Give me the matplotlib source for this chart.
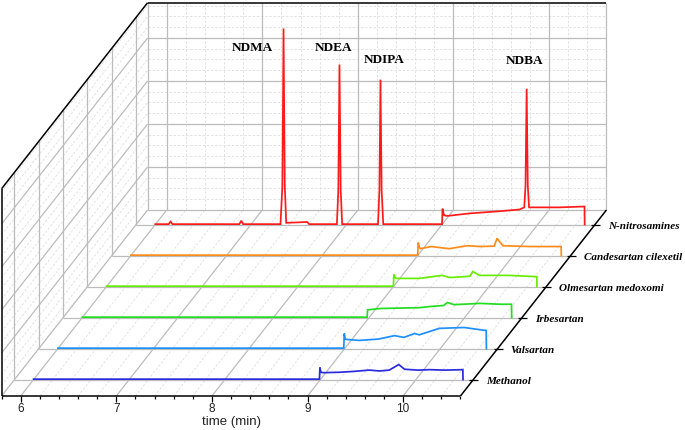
import numpy as np
import matplotlib
matplotlib.use("Agg")
from matplotlib import pyplot as plt

# series, front to back
names = ["Methanol", "Valsartan", "Irbesartan", "Olmesartan medoxomi",
         "Candesartan cilexetil", "N-nitrosamines"]
colors = ["#2b2be0", "#1e8fff", "#22dd22", "#66ee00", "#ff8c1a", "#ff1a1a"]
depths = [0.53, 1.53, 2.53, 3.53, 4.53, 5.53]

# traces: time (min) and signal (a.u.)
meoh_t = [6.00, 8.99, 8.995, 9.005, 9.03, 9.20, 9.35, 9.51, 9.62, 9.72, 9.82, 9.88, 10.02, 10.14, 10.30, 10.49, 10.492]
meoh_z = [0.01, 0.01, 0.28, 0.17, 0.16, 0.17, 0.19, 0.22, 0.20, 0.22, 0.35, 0.24, 0.22, 0.23, 0.22, 0.23, 0.0]

vals_t = [6.00, 8.99, 8.995, 9.005, 9.03, 9.15, 9.35, 9.52, 9.62, 9.73, 9.78, 9.99, 10.25, 10.41, 10.48, 10.482]
vals_z = [0.01, 0.01, 0.35, 0.22, 0.21, 0.19, 0.22, 0.30, 0.26, 0.35, 0.32, 0.47, 0.49, 0.44, 0.42, 0.0]

irb_t = [6.00, 8.98, 8.985, 9.03, 9.11, 9.30, 9.53, 9.65, 9.78, 9.82, 9.89, 10.16, 10.37, 10.49, 10.492]
irb_z = [0.01, 0.01, 0.18, 0.19, 0.21, 0.22, 0.23, 0.26, 0.28, 0.35, 0.30, 0.33, 0.31, 0.31, 0.0]

olm_t = [6.00, 9.00, 9.005, 9.02, 9.04, 9.27, 9.51, 9.59, 9.80, 9.83, 9.90, 10.21, 10.50, 10.502]
olm_z = [0.01, 0.01, 0.28, 0.20, 0.19, 0.19, 0.26, 0.21, 0.24, 0.35, 0.26, 0.26, 0.23, 0.0]

cand_t = [6.00, 9.00, 9.005, 9.02, 9.03, 9.14, 9.33, 9.52, 9.65, 9.80, 9.83, 9.89, 10.17, 10.50, 10.502]
cand_z = [0.01, 0.01, 0.30, 0.18, 0.16, 0.21, 0.16, 0.23, 0.21, 0.22, 0.40, 0.23, 0.21, 0.21, 0.0]

nitro_t = [6.00, 6.14, 6.16, 6.18, 6.88, 6.90, 6.92,
           7.31, 7.33, 7.342, 7.355, 7.37, 7.59, 7.61,
           7.90, 7.915, 7.927, 7.94, 7.955,
           8.33, 8.345, 8.356, 8.368, 8.385,
           9.00, 9.005, 9.02, 9.05, 9.29, 9.60, 9.81, 9.86, 9.873, 9.885, 9.897, 9.91,
           10.23, 10.49, 10.492]
nitro_z = [0.01, 0.01, 0.07, 0.01, 0.01, 0.09, 0.01,
           0.01, 0.9, 4.56, 0.9, 0.04, 0.06, 0.01,
           0.01, 0.8, 3.72, 0.8, 0.01,
           0.01, 0.8, 3.37, 0.8, 0.01,
           0.01, 0.37, 0.22, 0.20, 0.26, 0.31, 0.35, 0.40, 0.9, 3.16, 0.9, 0.40,
           0.40, 0.42, 0.0]

traces_t = [meoh_t, vals_t, irb_t, olm_t, cand_t, nitro_t]
traces_z = [meoh_z, vals_z, irb_z, olm_z, cand_z, nitro_z]

peak_names = ["NDMA", "NDEA", "NDIPA", "NDBA"]
peak_label_t = [7.02, 7.86, 8.39, 9.86]
peak_label_z = [4.10, 4.10, 3.82, 3.80]

xticks_major = [6, 7, 8, 9, 10]
t_min, t_max = 5.8, 10.6
d_max = 6.0
z_max = 4.82

# oblique projection: depth moves the point right and up
KX = 24.33 / 95.6
KY = 31.0 / 43.0


def proj(t, d, z):
    return np.asarray(t, float) + np.asarray(d, float) * KX, np.asarray(z, float) + np.asarray(d, float) * KY


def seg(ax, p0, p1, **kw):
    x0, y0 = proj(*p0)
    x1, y1 = proj(*p1)
    ax.plot([x0, x1], [y0, y1], solid_capstyle="butt", **kw)


fig = plt.figure(figsize=(6.85, 4.3), dpi=100)
ax = fig.add_axes([0, 0, 1, 1])
ax.set_xlim(5.7835, 12.9487)
ax.set_ylim(-0.7907, 9.2093)
ax.axis("off")

major = dict(color="#bcbcbc", lw=0.9, zorder=1)
minor = dict(color="#dedede", lw=0.6, ls=(0, (3, 2)), zorder=0.5)

minor_t = np.round(np.arange(t_min, t_max + 0.001, 0.2), 2)
minor_z = np.arange(0.25, z_max, 0.25)

# back wall
for t in minor_t:
    if abs(t - round(t)) > 0.01:
        seg(ax, (t, d_max, 0), (t, d_max, z_max), **minor)
for t in xticks_major:
    seg(ax, (t, d_max, 0), (t, d_max, z_max), **major)
for z in minor_z:
    if abs(z - round(z)) > 0.01:
        seg(ax, (t_min, d_max, z), (t_max, d_max, z), **minor)
for z in [0, 1, 2, 3, 4]:
    seg(ax, (t_min, d_max, z), (t_max, d_max, z), **major)
seg(ax, (t_min, d_max, 0), (t_min, d_max, z_max), **major)
seg(ax, (t_max, d_max, 0), (t_max, d_max, z_max), **major)

# left wall
for z in minor_z:
    if abs(z - round(z)) > 0.01:
        seg(ax, (t_min, 0, z), (t_min, d_max, z), **minor)
for z in [0, 1, 2, 3, 4]:
    seg(ax, (t_min, 0, z), (t_min, d_max, z), **major)
for d in depths:
    seg(ax, (t_min, d, 0), (t_min, d, z_max), **major)

# floor
for t in minor_t:
    if abs(t - round(t)) > 0.01:
        seg(ax, (t, 0, 0), (t, d_max, 0), **minor)
for t in xticks_major:
    seg(ax, (t, 0, 0), (t, d_max, 0), **major)
for d in depths:
    seg(ax, (t_min, d, 0), (t_max, d, 0), **major)

# traces
for d, c, tt, zz in zip(depths, colors, traces_t, traces_z):
    x, y = proj(tt, d, zz)
    ax.plot(x, y, color=c, lw=1.25, zorder=3, solid_joinstyle="miter")

# frame
frame = dict(color="black", lw=1.1, zorder=4)
seg(ax, (t_min, 0, 0), (t_max, 0, 0), **frame)
seg(ax, (t_min, 0, 0), (t_min, 0, z_max), **frame)
seg(ax, (t_min, 0, z_max), (t_min, d_max, z_max), **frame)
seg(ax, (t_min, d_max, z_max), (t_max, d_max, z_max), **frame)
seg(ax, (t_max, 0, 0), (t_max, d_max, 0), **frame)

# x ticks
px_t = 1 / 95.6
px_z = 1 / 43.0
for t in minor_t:
    is_major = abs(t - round(t)) < 0.01
    ln = 5.7 if is_major else 3.3
    seg(ax, (t, 0, 0), (t, 0, -ln * px_z), color="black", lw=0.9, zorder=4)
for t in xticks_major:
    x, y = proj(t, 0, -13 * px_z)
    ax.text(x, y, str(t), ha="center", va="center", fontsize=8.5,
            family="Liberation Sans", color="#222222")
x, y = proj(0.5 * (t_min + t_max), 0, -26 * px_z)
ax.text(x, y, "time (min)", ha="center", va="center", fontsize=9.5,
        family="Liberation Sans", color="#222222")

# depth ticks and labels
for d, name in zip(depths, names):
    seg(ax, (t_max - 4 * px_t, d, 0), (t_max + 5 * px_t, d, 0), color="black", lw=0.9, zorder=4)
    x, y = proj(t_max + 13 * px_t, d, -1.5 * px_z)
    ax.text(x, y, name, ha="left", va="center", fontsize=8, family="Liberation Serif",
            fontweight="bold", fontstyle="italic")

# peak labels on the N-nitrosamines trace
for nm, t, z in zip(peak_names, peak_label_t, peak_label_z):
    x, y = proj(t, depths[-1], z)
    ax.text(x, y, nm, ha="center", va="center", fontsize=9.5,
            family="Liberation Serif", fontweight="bold")

fig.savefig("out.png", dpi=100)
